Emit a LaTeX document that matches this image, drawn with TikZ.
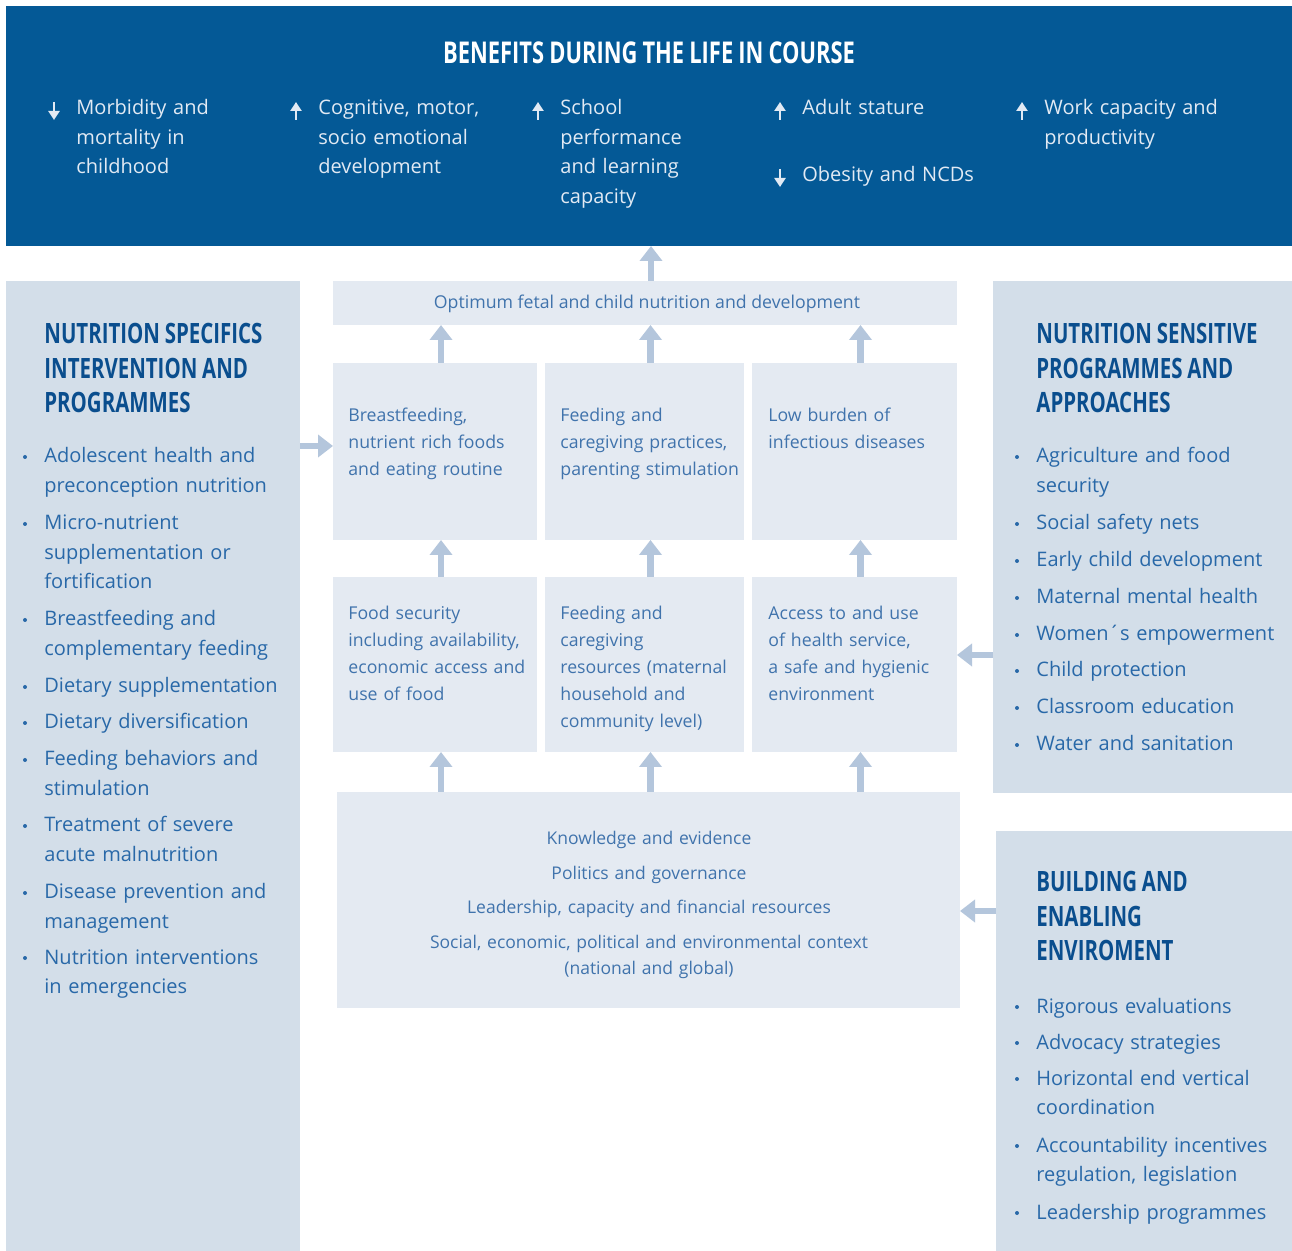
\documentclass[tikz,border=0pt]{standalone}
\usepackage{fontspec}
\setmainfont{Open Sans}
\newfontfamily\headfont{Open Sans}[FakeStretch=0.73,WordSpace=0.9]
\usetikzlibrary{fit,calc,arrows.meta}

\definecolor{banner}{RGB}{4,89,150}
\definecolor{panel}{RGB}{211,222,233}
\definecolor{cell}{RGB}{228,234,242}
\definecolor{ink}{RGB}{40,104,168}
\definecolor{cellink}{RGB}{64,115,172}
\definecolor{headink}{RGB}{10,78,142}
\definecolor{flow}{RGB}{180,198,220}
\definecolor{bannerink}{RGB}{226,234,244}

\begin{document}
\begin{tikzpicture}[x=0.5pt,y=-0.5pt,
  area/.style={fill=#1, draw=none, inner sep=0pt, outer sep=0pt},
  flowarrow/.style={draw=flow, line width=3.2pt, -{Triangle[width=11pt,length=7.5pt]}},
  trend/.style={draw=bannerink, line width=1.3pt, -{Triangle[width=5.5pt,length=4.5pt]}},
  bannertext/.style={font=\fontsize{10}{14.75}\selectfont, text=bannerink, inner sep=0pt,
    anchor=base west, align=left, text width=110pt},
  heading/.style={font=\headfont\bfseries\fontsize{14}{17.25}\selectfont, text=headink,
    inner sep=0pt, anchor=base west},
  item/.style={font=\fontsize{10}{14.75}\selectfont, text=ink, inner sep=0pt,
    anchor=base west, align=left, text width=150pt},
  celltext/.style={font=\fontsize{8.85}{13.5}\selectfont, text=cellink, inner sep=0pt,
    anchor=base west, align=left, text width=100pt},
  dot/.style={fill=ink, draw=none}
]
\useasboundingbox[fill=white] (0,0) rectangle (1292,1251);

% ---------- blocks ----------
\node[area=banner, fit={(6,6) (1292,246)}] (banner) {};
\node[area=panel, fit={(6,281) (300,1251)}] (spec) {};
\node[area=panel, fit={(993,281) (1292,793)}] (sens) {};
\node[area=panel, fit={(996,831) (1292,1251)}] (enab) {};
\node[area=cell, fit={(333,281) (957,325)}] (opt) {};
\node[area=cell, fit={(333,363) (537,540)}] (bf) {};
\node[area=cell, fit={(545,363) (744,540)}] (fc) {};
\node[area=cell, fit={(752,363) (957,540)}] (lb) {};
\node[area=cell, fit={(333,577) (537,752)}] (fs) {};
\node[area=cell, fit={(545,577) (744,752)}] (fr) {};
\node[area=cell, fit={(752,577) (957,752)}] (ah) {};
\node[area=cell, fit={(337,792) (960,1008)}] (env) {};

% ---------- banner ----------
\node[font=\headfont\bfseries\fontsize{15}{18}\selectfont, text=white, inner sep=0pt, anchor=base]
  (title) at (649,64) {BENEFITS DURING THE LIFE IN COURSE};

\node[bannertext] (b1) at (76,115) {Morbidity and\\mortality in\\childhood};
\node[bannertext] (b2) at (318,115) {Cognitive, motor,\\socio emotional\\development};
\node[bannertext] (b3) at (560,115) {School\\performance\\and learning\\capacity};
\node[bannertext] (b4) at (802,115) {Adult stature};
\node[bannertext] (b5) at (802,182) {Obesity and NCDs};
\node[bannertext] (b6) at (1044,115) {Work capacity and\\productivity};

\draw[trend] (54,102) -- (54,120);
\draw[trend] (296,120) -- (296,102);
\draw[trend] (538,120) -- (538,102);
\draw[trend] (780,120) -- (780,102);
\draw[trend] (780,169) -- (780,187);
\draw[trend] (1022,120) -- (1022,102);

% ---------- centre column ----------
\node[font=\fontsize{8.85}{13.5}\selectfont, text=cellink, inner sep=0pt, anchor=base]
  (optt) at (647,309) {Optimum fetal and child nutrition and development};

\node[celltext] (bft) at (348,422) {Breastfeeding,\\nutrient rich foods\\and eating routine};
\node[celltext] (fct) at (560,422) {Feeding and\\caregiving practices,\\parenting stimulation};
\node[celltext] (lbt) at (768,422) {Low burden of\\infectious diseases};

\node[celltext] (fst) at (348,620) {Food security\\including availability,\\economic access and\\use of food};
\node[celltext] (frt) at (560,620) {Feeding and\\caregiving\\resources (maternal\\household and\\community level)};
\node[celltext] (aht) at (768,620) {Access to and use\\of health service,\\a safe and hygienic\\environment};

\node[font=\fontsize{8.75}{13.5}\selectfont, text=cellink, inner sep=0pt, anchor=base,
  align=center, text width=300pt] (envt) at (649,844)
  {Knowledge and evidence\\[4pt]
   Politics and governance\\[3.5pt]
   Leadership, capacity and financial resources\\[4pt]
   Social, economic, political and environmental context\\
   (national and global)};

% ---------- flow arrows ----------
\coordinate (u0) at ([xshift=3pt]opt.north);
\draw[flowarrow] (u0) -- (u0 |- banner.south);
\foreach \lower/\upper in {bf/opt, fc/opt, lb/opt, fs/bf, fr/fc, ah/lb} {
  \coordinate (u) at ([xshift=3pt]\lower.north);
  \draw[flowarrow] (u) -- (u |- \upper.south);
}
\foreach \cellname in {fs, fr, ah} {
  \coordinate (v) at ([xshift=3pt]\cellname.south);
  \draw[flowarrow] (v |- env.north) -- (v);
}
\coordinate (la) at ($(bf.west)+(0,-5.5)$);
\draw[flowarrow] (la -| spec.east) -- (la);
\coordinate (ra) at ($(ah.east)+(0,-9.5)$);
\draw[flowarrow] (ra -| sens.west) -- (ra);
\coordinate (ba) at ($(env.east)+(0,11)$);
\draw[flowarrow] (ba -| enab.west) -- (ba);

% ---------- left panel ----------
\node[heading] (spech) at (44,344)
  {\begin{tabular}[t]{@{}l@{}}NUTRITION SPECIFICS\\INTERVENTION AND\\PROGRAMMES\end{tabular}};
\foreach \y/\txt [count=\i] in {
  463/{Adolescent health and\\preconception nutrition},
  530/{Micro-nutrient\\supplementation or\\fortification},
  626/{Breastfeeding and\\complementary feeding},
  693/{Dietary supplementation},
  729/{Dietary diversification},
  766/{Feeding behaviors and\\stimulation},
  832/{Treatment of severe\\acute malnutrition},
  899/{Disease prevention and\\management},
  964/{Nutrition interventions\\in emergencies}} {
  \node[item] (s\i) at (44,\y) {\txt};
  \fill[dot] ($(s\i.base west)+(-19,-6)$) circle[radius=1pt];
}

% ---------- right panel, upper ----------
\node[heading] (sensh) at (1036,344)
  {\begin{tabular}[t]{@{}l@{}}NUTRITION SENSITIVE\\PROGRAMMES AND\\APPROACHES\end{tabular}};
\foreach \y/\txt [count=\i] in {
  463/{Agriculture and food\\security},
  530/{Social safety nets},
  567/{Early child development},
  604/{Maternal mental health},
  641/{Women´s empowerment},
  677/{Child protection},
  714/{Classroom education},
  751/{Water and sanitation}} {
  \node[item] (n\i) at (1036,\y) {\txt};
  \fill[dot] ($(n\i.base west)+(-19,-6)$) circle[radius=1pt];
}

% ---------- right panel, lower ----------
\node[heading] (enabh) at (1036,892)
  {\begin{tabular}[t]{@{}l@{}}BUILDING AND\\ENABLING\\ENVIROMENT\end{tabular}};
\foreach \y/\txt [count=\i] in {
  1013/{Rigorous evaluations},
  1049/{Advocacy strategies},
  1085/{Horizontal end vertical\\coordination},
  1152/{Accountability incentives\\regulation, legislation},
  1219/{Leadership programmes}} {
  \node[item] (e\i) at (1036,\y) {\txt};
  \fill[dot] ($(e\i.base west)+(-19,-6)$) circle[radius=1pt];
}
\end{tikzpicture}
\end{document}
